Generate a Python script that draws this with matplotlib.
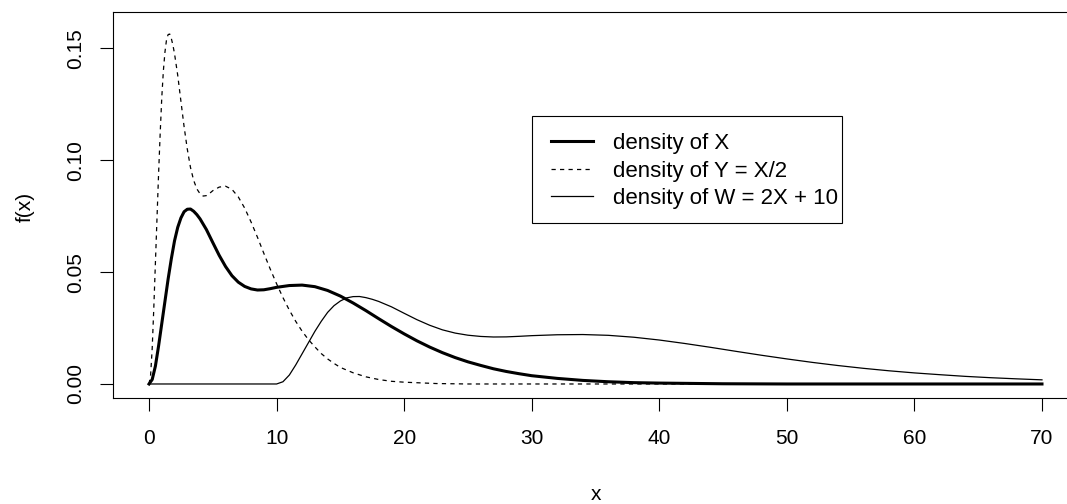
import matplotlib
matplotlib.use("Agg")
import matplotlib.pyplot as plt
from matplotlib.patches import Rectangle

plt.rcParams['font.family'] = ['Liberation Sans', 'DejaVu Sans']

# density of X
x_vals = [0, 0.25, 0.5, 0.75, 1, 1.25, 1.5, 1.75, 2, 2.25, 2.5, 2.75, 3, 3.25, 3.5, 3.75,
          4, 4.5, 5, 5.5, 6, 6.5, 7, 7.5, 8, 8.5, 9, 9.5, 10, 11, 12, 13, 14, 15, 16, 17,
          18, 19, 20, 21, 22, 23, 24, 25, 26, 27, 28, 29, 30, 32, 34, 36, 38, 40, 45, 50, 60, 70]
fx_vals = [0, 0.002, 0.008, 0.017, 0.027, 0.037, 0.047, 0.056, 0.064, 0.0700, 0.0742, 0.0770,
           0.0781, 0.0782, 0.0772, 0.0757, 0.0738, 0.0690, 0.0632, 0.0575, 0.0525, 0.0484,
           0.0455, 0.0436, 0.0425, 0.0420, 0.0421, 0.0426, 0.0432, 0.0440, 0.0442, 0.0435,
           0.0418, 0.0393, 0.0362, 0.0328, 0.0292, 0.0257, 0.0224, 0.0193, 0.0165, 0.0140,
           0.0118, 0.0099, 0.0083, 0.0068, 0.0056, 0.0046, 0.0037, 0.0025, 0.0016, 0.0010,
           0.0006, 0.0004, 0.0001, 0.0, 0.0, 0.0]

# density of Y = X/2
y_vals = [0, 0.125, 0.25, 0.375, 0.5, 0.625, 0.75, 0.875, 1, 1.125, 1.25, 1.375, 1.5, 1.625,
          1.75, 1.875, 2, 2.25, 2.5, 2.75, 3, 3.25, 3.5, 3.75, 4, 4.25, 4.5, 4.75, 5, 5.5, 6,
          6.5, 7, 7.5, 8, 8.5, 9, 9.5, 10, 10.5, 11, 11.5, 12, 12.5, 13, 13.5, 14, 14.5, 15,
          16, 17, 18, 19, 20, 22.5, 25, 30, 70]
fy_vals = [0, 0.004, 0.016, 0.034, 0.054, 0.074, 0.094, 0.112, 0.128, 0.140, 0.1484, 0.154,
           0.1562, 0.1564, 0.1544, 0.1514, 0.1476, 0.138, 0.1264, 0.115, 0.105, 0.0968,
           0.091, 0.0872, 0.085, 0.084, 0.0842, 0.0852, 0.0864, 0.088, 0.0884, 0.087,
           0.0836, 0.0786, 0.0724, 0.0656, 0.0584, 0.0514, 0.0448, 0.0386, 0.033, 0.028,
           0.0236, 0.0198, 0.0166, 0.0136, 0.0112, 0.0092, 0.0074, 0.005, 0.0032, 0.002,
           0.0012, 0.0008, 0.0002, 0.0, 0.0, 0.0]

# density of W = 2X + 10
w_vals = [0, 10, 10.5, 11, 11.5, 12, 12.5, 13, 13.5, 14, 14.5, 15, 15.5, 16, 16.5, 17, 17.5,
          18, 19, 20, 21, 22, 23, 24, 25, 26, 27, 28, 29, 30, 32, 34, 36, 38, 40, 42, 44, 46,
          48, 50, 52, 54, 56, 58, 60, 62, 64, 66, 68, 70]
fw_vals = [0, 0, 0.001, 0.004, 0.0085, 0.0135, 0.0185, 0.0235, 0.028, 0.032, 0.035, 0.0371,
           0.0385, 0.03905, 0.0391, 0.0386, 0.03785, 0.0369, 0.0345, 0.0316, 0.02875,
           0.02625, 0.0242, 0.02275, 0.0218, 0.02125, 0.0210, 0.02105, 0.0213, 0.0216,
           0.0220, 0.0221, 0.02175, 0.0209, 0.01965, 0.0181, 0.0164, 0.0146, 0.01285,
           0.0112, 0.00965, 0.00825, 0.0070, 0.0059, 0.00495, 0.00415, 0.0034, 0.0028,
           0.0023, 0.00185]

labels = ["density of X", "density of Y = X/2", "density of W = 2X + 10"]
x_ticks = [0, 10, 20, 30, 40, 50, 60, 70]
y_ticks = [0.00, 0.05, 0.10, 0.15]

W, H = 1067, 504
fig = plt.figure(figsize=(W / 100, H / 100), dpi=100)
# plot box in pixels: left 113, top 12, bottom 398, right runs past the image edge
ax = fig.add_axes([113.3 / W, (H - 398.3) / H, 964.4 / W, 386.6 / H])

h1, = ax.plot(x_vals, fx_vals, color="black", lw=2.2, solid_joinstyle="round")
h2, = ax.plot(y_vals, fy_vals, color="black", lw=0.9, dashes=(3.4, 3.4))
h3, = ax.plot(w_vals, fw_vals, color="black", lw=0.9)

ax.set_xlim(-2.8, 72.8)
ax.set_ylim(-0.0064, 0.1664)
ax.set_xticks(x_ticks)
ax.set_xticklabels([str(t) for t in x_ticks])
ax.set_yticks(y_ticks)
ax.set_yticklabels(["%.2f" % t for t in y_ticks])
ax.tick_params(axis="both", length=9.6, width=0.8, labelsize=15, color="black")
ax.tick_params(axis="x", pad=12.5)
ax.tick_params(axis="y", pad=10.5)
plt.setp(ax.get_yticklabels(), rotation=90, va="center", ha="right")
for s in ax.spines.values():
    s.set_linewidth(0.8)
    s.set_color("black")

fig.text(25 / W, (H - 206.7) / H, "f(x)", rotation=90, ha="center", va="center", fontsize=15)
fig.text(596 / W, (H - 499.5) / H, "x", ha="center", va="baseline", fontsize=15)

# legend: frameless handles plus a square box like R's legend()
leg = fig.legend([h1, h2, h3], labels, loc="center left",
                 bbox_to_anchor=(551 / W, (H - 171.2) / H), frameon=False,
                 fontsize=16, handlelength=1.9, handletextpad=0.87,
                 borderpad=0, borderaxespad=0, labelspacing=0.29)
fig.patches.append(Rectangle((531.7 / W, (H - 223.3) / H), 310.6 / W, 107.6 / H,
                             transform=fig.transFigure, fill=False, ec="black", lw=0.8))

fig.savefig("out.png", dpi=100)
